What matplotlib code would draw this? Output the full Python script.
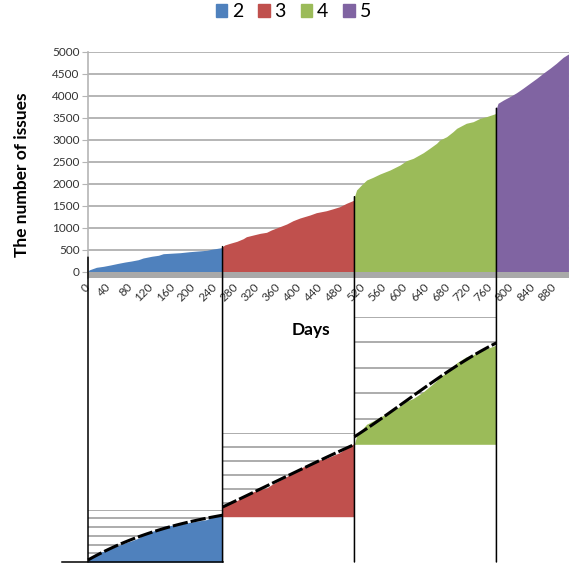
import numpy as np
import matplotlib
matplotlib.use('Agg')
import matplotlib.pyplot as plt
from matplotlib import transforms
from matplotlib.lines import Line2D
from matplotlib.patches import ConnectionPatch, Patch

plt.rcParams['font.family'] = ['Lato', 'DejaVu Sans']

# cumulative number of issues per version (day, count)
v2_days = [0, 2, 16, 29, 42, 57, 70, 82, 95, 104, 120, 133, 142, 174, 192, 224, 233, 254]
v2_vals = [0, 40, 100, 122, 152, 190, 220, 243, 273, 311, 350, 373, 409, 432, 455, 486, 509, 550]

v3_days = [254, 258, 268, 281, 293, 299, 312, 325, 337, 346, 362, 375, 387, 400, 419,
           431, 450, 463, 475, 488, 503]
v3_vals = [570, 607, 645, 690, 750, 795, 834, 872, 895, 948, 1023, 1084, 1159, 1220, 1289,
           1341, 1386, 1432, 1477, 1555, 1630]

v4_days = [503, 507, 513, 516, 526, 538, 551, 570, 589, 601, 614, 633, 645, 658, 664,
           677, 689, 696, 714, 727, 740, 752, 771]
v4_vals = [1705, 1857, 1932, 1970, 2084, 2145, 2220, 2311, 2425, 2523, 2577, 2705, 2805, 2918, 2993,
           3068, 3182, 3259, 3373, 3409, 3486, 3523, 3600]

v5_days = [771, 774, 784, 796, 809, 821, 834, 847, 859, 872, 884, 897, 907]
v5_vals = [3714, 3827, 3900, 3977, 4068, 4168, 4282, 4395, 4509, 4623, 4736, 4873, 4948]

versions = ['2', '3', '4', '5']
colors = ['#4F81BD', '#C0504D', '#9BBB59', '#8064A2']
series = [(v2_days, v2_vals), (v3_days, v3_vals), (v4_days, v4_vals), (v5_days, v5_vals)]

# zoomed panels under the main chart (versions 2, 3, 4)
panel_ylims = [(0, 600), (425, 1800), (1700, 4140)]
panel_ngrid = [6, 6, 5]
panel_px = [(509.7, 562), (433, 516.7), (316.7, 444.3)]  # top, bottom in pixels

W, H = 575, 565
fig = plt.figure(figsize=(W / 100, H / 100), dpi=100)


def box(x0, x1, ytop, ybot):
    return [x0 / W, 1 - ybot / H, (x1 - x0) / W, (ybot - ytop) / H]


X0, X1, XMAX = 88, 569, 908
ax = fig.add_axes(box(X0, X1, 51.7, 278.3))
ax.set_xlim(0, XMAX)
ax.set_ylim(-150, 5000)

for (d, v), c in zip(series, colors):
    ax.fill_between(d, v, 0, color=c, lw=0, zorder=2)
ax.axhspan(-150, 0, color='#a9a9a9', lw=0, zorder=3)

ax.set_yticks(range(0, 5001, 500))
ax.grid(axis='y', color='#b5b5b5', lw=1.4, zorder=0)
ax.set_axisbelow(True)
for s in ['top', 'right', 'bottom']:
    ax.spines[s].set_visible(False)
ax.spines['left'].set_color('#b5b5b5')
ax.spines['left'].set_linewidth(1.2)
ax.tick_params(axis='y', length=4, color='#b5b5b5', labelsize=8.5, labelcolor='#333333', pad=2)
ax.set_xticks(np.arange(0, 881, 40))
ax.tick_params(axis='x', length=0, labelsize=8.5, labelcolor='#333333', pad=5)
plt.setp(ax.get_xticklabels(), rotation=45, ha='right', va='center', rotation_mode='anchor')


def px(day):
    return X0 + day * (X1 - X0) / XMAX


bottom_y = 1 - 562 / H
for i in range(3):
    d, v = series[i]
    lo, hi = panel_ylims[i]
    top, bot = panel_px[i]
    axp = fig.add_axes(box(px(d[0]), px(d[-1]), top, bot))
    axp.set_xlim(d[0], d[-1])
    axp.set_ylim(lo, hi)
    axp.axis('off')
    for g in np.linspace(lo, hi, panel_ngrid[i] + 1)[1:]:
        axp.axhline(g, color='#a6a6a6', lw=1.3, zorder=0)
    axp.fill_between(d, v, lo, color=colors[i], lw=0, zorder=2)
    # polynomial trend line
    coef = np.polyfit(d, v, 3)
    xs = np.linspace(d[0], d[-1], 60)
    axp.plot(xs, np.polyval(coef, xs), color='black', lw=2.2, ls=(0, (5, 1)),
             zorder=3, clip_on=False)

# boundary lines from the main chart down to the panels
blend = transforms.blended_transform_factory(ax.transData, fig.transFigure)
starts = [(0, 330), (v3_days[0], v3_vals[0]), (v4_days[0], v4_vals[0]), (v5_days[0], v5_vals[0])]
for d, v in starts:
    con = ConnectionPatch(xyA=(d, v), coordsA=ax.transData, xyB=(d, bottom_y), coordsB=blend,
                          color='black', lw=1.1)
    fig.add_artist(con)
fig.add_artist(Line2D([62 / W, px(v2_days[-1]) / W], [bottom_y, bottom_y],
                      transform=fig.transFigure, color='black', lw=1.1))

handles = [Patch(color=c, label=l) for c, l in zip(colors, versions)]
fig.legend(handles=handles, loc='center', bbox_to_anchor=(0.51, 0.979), ncol=4, frameon=False,
           handlelength=0.6, handleheight=0.6, handletextpad=0.25, columnspacing=0.75, fontsize=14)

fig.text(22 / W, 1 - 175 / H, 'The number of issues', rotation=90, fontsize=12.5,
         fontweight='bold', ha='center', va='center')
fig.text(311 / W, 1 - 330 / H, 'Days', fontsize=12.5, fontweight='bold', ha='center', va='center')

fig.savefig('out.png', dpi=100)
